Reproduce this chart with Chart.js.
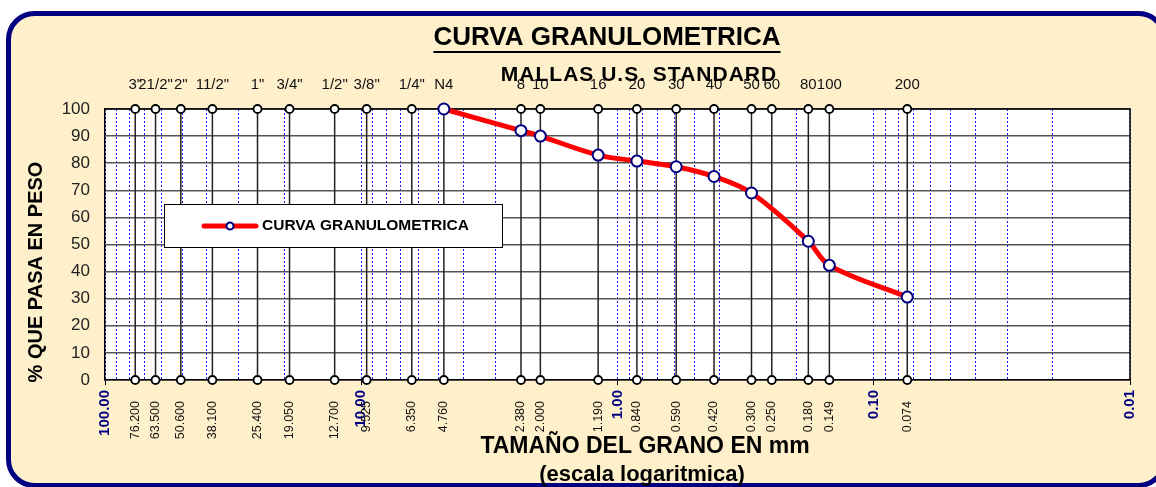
<!DOCTYPE html>
<html>
<head>
<meta charset="utf-8">
<script src="https://cdn.jsdelivr.net/npm/chart.js@4.4.1/dist/chart.umd.min.js"></script>
<style>
  html, body { margin: 0; padding: 0; background: #fff; }
  canvas { display: block; }
</style>
</head>
<body>
<canvas id="granulo" width="1156" height="487"></canvas>
<script>
// sieves (US standard) - name on top, opening in mm on bottom
const sieveNames = ['3"', '21/2"', '2"', '11/2"', '1"', '3/4"', '1/2"', '3/8"', '1/4"', 'N4',
    '8', '10', '16', '20', '30', '40', '50', '60', '80', '100', '200'];
const sieveSizes = [76.2, 63.5, 50.6, 38.1, 25.4, 19.05, 12.7, 9.525, 6.35, 4.76,
    2.38, 2.0, 1.19, 0.84, 0.59, 0.42, 0.3, 0.25, 0.18, 0.149, 0.074];

// grain size curve
const curveSizes = [4.76, 2.38, 2.0, 1.19, 0.84, 0.59, 0.42, 0.3, 0.18, 0.149, 0.074];
const curvePass = [100, 92, 90, 83, 80.8, 78.7, 75.1, 69, 51.2, 42.3, 30.6];

// log axis labels
const decadeValues = [100, 10, 1, 0.1, 0.01];
const decadeLabels = ['100.00', '10.00', '1.00', '0.10', '0.01'];
const gridMultipliers = [1, 2, 3, 4, 5, 6, 7, 8, 9];
const yTicks = [0, 10, 20, 30, 40, 50, 60, 70, 80, 90, 100];

const FONT = "'Liberation Sans', Arial, sans-serif";

const gridValues = [100];
[-2, -1, 0, 1].forEach(k => gridMultipliers.forEach(m => gridValues.push(+(m * Math.pow(10, k)).toPrecision(6))));

function isDecade(v) {
    const l = Math.log10(v);
    return Math.abs(l - Math.round(l)) < 1e-9;
}

// vertical sieve lines with circles at 0 and 100
const sieveLineData = [];
sieveSizes.forEach(s => {
    sieveLineData.push({ x: s, y: 0 });
    sieveLineData.push({ x: s, y: 100 });
    sieveLineData.push({ x: s, y: null });
});

const backgroundPlugin = {
    id: 'background',
    beforeDraw(chart) {
        const ctx = chart.ctx;
        const a = chart.chartArea;
        ctx.save();
        ctx.fillStyle = '#ffffff';
        ctx.fillRect(0, 0, chart.width, chart.height);
        ctx.beginPath();
        ctx.roundRect(8.5, 13.5, 1156, 472, 26);
        ctx.fillStyle = '#FFF0CC';
        ctx.fill();
        ctx.lineWidth = 5;
        ctx.strokeStyle = '#000080';
        ctx.stroke();
        ctx.fillStyle = '#ffffff';
        ctx.fillRect(a.left, a.top, a.right - a.left, a.bottom - a.top);
        ctx.restore();
    }
};

const textPlugin = {
    id: 'texts',
    afterDraw(chart) {
        const ctx = chart.ctx;
        const xs = chart.scales.x;
        ctx.save();

        // sieve openings under the axis
        ctx.fillStyle = '#111';
        ctx.font = '12.5px ' + FONT;
        ctx.textAlign = 'right';
        ctx.textBaseline = 'middle';
        sieveSizes.forEach(s => {
            const x = xs.getPixelForValue(s);
            ctx.save();
            ctx.translate(x, 401);
            ctx.rotate(-Math.PI / 2);
            ctx.fillText(s.toFixed(3), 0, 0);
            ctx.restore();
        });

        // titles
        ctx.fillStyle = '#000';
        ctx.textAlign = 'center';
        ctx.font = 'bold 26px ' + FONT;
        ctx.fillText('CURVA GRANULOMETRICA', 607, 38);
        const tw = ctx.measureText('CURVA GRANULOMETRICA').width;
        ctx.fillRect(607 - tw / 2, 51, tw, 2);

        ctx.font = 'bold 21px ' + FONT;
        ctx.letterSpacing = '1px';
        ctx.fillText('MALLAS U.S. STANDARD', 639, 75);
        ctx.letterSpacing = '0px';

        ctx.font = 'bold 23px ' + FONT;
        ctx.fillText('TAMAÑO DEL GRANO EN mm', 645, 447);
        ctx.font = 'bold 22px ' + FONT;
        ctx.fillText('(escala logaritmica)', 642, 475);

        ctx.save();
        ctx.translate(36, 272);
        ctx.rotate(-Math.PI / 2);
        ctx.font = 'bold 20px ' + FONT;
        ctx.fillText('% QUE PASA EN PESO', 0, 0);
        ctx.restore();

        // legend
        const ds = chart.data.datasets[0];
        ctx.fillStyle = '#fff';
        ctx.fillRect(164, 204, 338, 43);
        ctx.strokeStyle = '#000';
        ctx.lineWidth = 1;
        ctx.strokeRect(164.5, 204.5, 338, 43);
        ctx.strokeStyle = ds.borderColor;
        ctx.lineWidth = ds.borderWidth;
        ctx.lineCap = 'round';
        ctx.beginPath();
        ctx.moveTo(204, 226);
        ctx.lineTo(256, 226);
        ctx.stroke();
        ctx.beginPath();
        ctx.arc(230, 226, 3.5, 0, Math.PI * 2);
        ctx.fillStyle = ds.pointBackgroundColor;
        ctx.fill();
        ctx.lineWidth = 2;
        ctx.strokeStyle = ds.pointBorderColor;
        ctx.stroke();
        ctx.fillStyle = '#000';
        ctx.textAlign = 'left';
        ctx.font = 'bold 15.5px ' + FONT;
        ctx.fillText(ds.label, 262, 226);

        ctx.restore();
    }
};

// frame top / right drawn before the datasets so the markers sit on it
const framePlugin = {
    id: 'frame',
    beforeDatasetsDraw(chart) {
        const ctx = chart.ctx;
        const a = chart.chartArea;
        ctx.save();
        ctx.strokeStyle = '#000';
        ctx.lineWidth = 1.5;
        ctx.beginPath();
        ctx.moveTo(a.left, a.top);
        ctx.lineTo(a.right, a.top);
        ctx.lineTo(a.right, a.bottom);
        ctx.stroke();
        ctx.restore();
    }
};

const chart = new Chart(document.getElementById('granulo').getContext('2d'), {
    type: 'line',
    data: {
        datasets: [{
            label: 'CURVA GRANULOMETRICA',
            data: curveSizes.map((s, i) => ({ x: s, y: curvePass[i] })),
            borderColor: '#FF0000',
            borderWidth: 5,
            tension: 0.35,
            pointRadius: 5.5,
            pointBackgroundColor: '#ffffff',
            pointBorderColor: '#000080',
            pointBorderWidth: 2,
            clip: false,
            xAxisID: 'x'
        },
        {
            label: 'mallas',
            data: sieveLineData,
            borderColor: '#222',
            borderWidth: 1.5,
            spanGaps: false,
            tension: 0,
            pointRadius: 4,
            pointBackgroundColor: '#ffffff',
            pointBorderColor: '#000',
            pointBorderWidth: 1.8,
            clip: false,
            xAxisID: 'x'
        }]
    },
    options: {
        responsive: false,
        animation: false,
        events: [],
        layout: { padding: { left: 0, right: 26, top: 0, bottom: 0 } },
        plugins: {
            legend: { display: false },
            title: { display: false },
            tooltip: { enabled: false }
        },
        scales: {
            x: {
                type: 'logarithmic',
                position: 'bottom',
                reverse: true,
                min: 0.01,
                max: 100,
                afterBuildTicks: scale => { scale.ticks = gridValues.map(v => ({ value: v })); },
                afterFit: scale => { scale.height = 107; },
                grid: {
                    color: 'rgba(0,0,255,0.9)',
                    lineWidth: 1,
                    drawTicks: true,
                    tickLength: 5,
                    tickColor: c => (c.tick && isDecade(c.tick.value)) ? '#000' : 'rgba(0,0,0,0)'
                },
                border: { display: true, color: '#000', width: 1.5, dash: [2, 2] },
                ticks: {
                    autoSkip: false,
                    minRotation: 90,
                    maxRotation: 90,
                    padding: 5,
                    color: '#000080',
                    font: { family: FONT, size: 15, weight: 'bold' },
                    callback: v => {
                        const i = decadeValues.findIndex(d => Math.abs(d - v) < 1e-9);
                        return i >= 0 ? decadeLabels[i] : '';
                    }
                }
            },
            xTop: {
                type: 'logarithmic',
                position: 'top',
                reverse: true,
                min: 0.01,
                max: 100,
                afterBuildTicks: scale => { scale.ticks = sieveSizes.map(v => ({ value: v })); },
                afterFit: scale => { scale.height = 109; },
                grid: { display: false, drawTicks: false },
                border: { display: false },
                ticks: {
                    autoSkip: false,
                    minRotation: 0,
                    maxRotation: 0,
                    padding: 15,
                    color: '#111',
                    font: { family: FONT, size: 15 },
                    callback: v => {
                        const i = sieveSizes.findIndex(s => Math.abs(s - v) < 1e-9);
                        return i >= 0 ? sieveNames[i] : '';
                    }
                }
            },
            y: {
                min: 0,
                max: 100,
                afterBuildTicks: scale => { scale.ticks = yTicks.map(v => ({ value: v })); },
                afterFit: scale => { scale.width = 105; },
                grid: { color: '#555', lineWidth: 1.5, drawTicks: false },
                border: { display: true, color: '#000', width: 1.5 },
                ticks: {
                    padding: 15,
                    color: '#222',
                    font: { family: FONT, size: 17 }
                }
            }
        }
    },
    plugins: [backgroundPlugin, framePlugin, textPlugin]
});
</script>
</body>
</html>
